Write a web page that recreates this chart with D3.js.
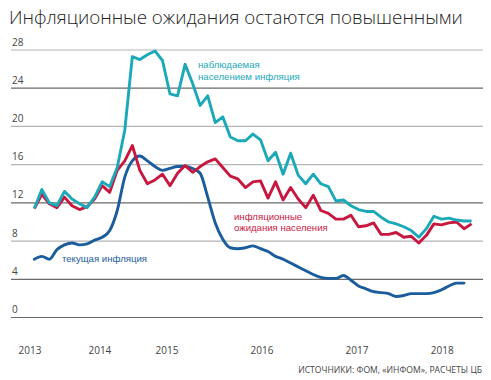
<!DOCTYPE html>
<html>
<head>
<meta charset="utf-8">
<script src="https://cdn.jsdelivr.net/npm/d3@7"></script>
<style>
  html, body { margin: 0; padding: 0; background: #fff; }
  svg { display: block; }
  text { font-family: "Open Sans", "Noto Sans", sans-serif; }
  text.lbl { font-family: "Liberation Sans", Arial, sans-serif; }
</style>
</head>
<body>
<svg id="chart" width="491" height="380"></svg>
<script>
// ---- data (monthly observations, index 0..58) ----
const observed = [11.4,13.4,12.0,11.7,13.2,12.4,11.9,11.5,12.6,14.2,13.7,15.7,19.6,27.3,27.0,27.5,27.9,26.9,23.4,23.2,
  26.5,24.5,22.2,23.2,20.4,21.0,18.9,18.5,18.5,19.2,18.6,16.4,17.3,15.0,17.2,14.9,14.0,15.0,14.0,13.7,
  12.2,12.3,11.7,11.3,11.1,11.1,10.5,10.0,9.8,9.5,9.1,8.4,9.3,10.6,10.3,10.4,10.2,10.1,10.1];
const expected = [11.4,12.9,11.9,11.5,12.6,11.7,11.3,11.6,12.4,13.8,13.1,15.4,16.4,18.0,15.4,14.0,14.4,15.0,13.8,15.1,
  15.9,15.2,15.8,16.3,16.6,15.7,14.8,14.5,13.6,14.2,14.3,12.5,14.2,12.3,13.6,12.4,11.5,12.8,11.2,10.9,
  10.3,10.3,10.7,9.5,9.6,9.9,8.7,8.7,8.9,8.4,8.5,7.8,8.6,9.8,9.7,9.9,10.0,9.3,9.8];
const current = [6.1,6.4,6.1,7.1,7.6,7.8,7.6,7.7,8.1,8.4,9.1,11.2,14.7,16.4,16.9,16.4,15.8,15.4,15.6,15.8,
  15.8,15.6,15.1,12.6,9.9,8.2,7.3,7.2,7.3,7.5,7.2,6.9,6.4,6.1,5.7,5.3,4.9,4.5,4.2,4.1,
  4.1,4.4,3.9,3.3,3.0,2.7,2.6,2.5,2.2,2.3,2.5,2.5,2.5,2.6,2.9,3.3,3.6,3.6];
const yTicks = [0, 4, 8, 12, 16, 20, 24, 28];
const yearLabels = ["2013", "2014", "2015", "2016", "2017", "2018"];
const yearPos = [-0.57, 8.7, 17.6, 30.2, 42.8, 54.1];   // position on the month-index axis
const title = "Инфляционные ожидания остаются повышенными";
const source = "ИСТОЧНИКИ: ФОМ, «ИНФОМ», РАСЧЕТЫ ЦБ";
const seriesLabels = {
  observed: ["наблюдаемая", "населением инфляция"],
  expected: ["инфляционные", "ожидания населения"],
  current: ["текущая инфляция"]
};

// ---- layout ----
const svg = d3.select("#chart");
const x = d3.scaleLinear().domain([0, 58]).range([34.3, 471.6]);
const y = d3.scaleLinear().domain([0, 28]).range([317.5, 50]);
const colors = { observed: "#1ba9b9", expected: "#c8173f", current: "#1b5c9c" };

// title
const t = svg.append("text")
  .attr("x", 9).attr("y", 24)
  .attr("font-size", 18).attr("font-weight", 300)
  .attr("fill", "#222")
  .text(title);
const tw = t.node().getComputedTextLength();
t.attr("font-size", 18 * 454 / tw);

// gridlines
const dark = new Set([0, 4, 12, 24]);
svg.append("g").selectAll("line").data(yTicks).join("line")
  .attr("x1", 11).attr("x2", 483)
  .attr("y1", d => y(d)).attr("y2", d => y(d))
  .attr("stroke", d => dark.has(d) ? "#6a6a6a" : "#b5b5b5")
  .attr("stroke-width", 1.2);

// y tick labels
svg.append("g").selectAll("text").data(yTicks).join("text")
  .attr("x", 12).attr("y", d => y(d) - 4.5)
  .attr("font-size", 10).attr("fill", "#444")
  .text(d => d);

// x labels
svg.append("g").selectAll("text").data(yearLabels).join("text")
  .attr("x", (d, i) => x(yearPos[i])).attr("y", 354)
  .attr("text-anchor", "middle")
  .attr("font-size", 10).attr("fill", "#444")
  .text(d => d);

// lines
const straight = d3.line().x((d, i) => x(i)).y(d => y(d));
const smooth = d3.line().x((d, i) => x(i)).y(d => y(d)).curve(d3.curveMonotoneX);

svg.append("path").datum(current)
  .attr("d", smooth).attr("fill", "none")
  .attr("stroke", colors.current).attr("stroke-width", 2.9)
  .attr("stroke-linejoin", "round").attr("stroke-linecap", "round");
svg.append("path").datum(expected)
  .attr("d", straight).attr("fill", "none")
  .attr("stroke", colors.expected).attr("stroke-width", 2.9)
  .attr("stroke-linejoin", "round");
svg.append("path").datum(observed)
  .attr("d", straight).attr("fill", "none")
  .attr("stroke", colors.observed).attr("stroke-width", 2.9)
  .attr("stroke-linejoin", "round");

// series labels (one text per line)
function label(lines, x0, y0, color) {
  lines.forEach((s, i) => svg.append("text")
    .attr("class", "lbl")
    .attr("x", x0).attr("y", y0 + i * 11.2)
    .attr("font-size", 9.6).attr("fill", color)
    .text(s));
}
label(seriesLabels.observed, 198, 68.3, colors.observed);
label(seriesLabels.expected, 234, 220.2, colors.expected);
label(seriesLabels.current, 62, 262.3, colors.current);

// source
svg.append("text")
  .attr("x", 482).attr("y", 373)
  .attr("text-anchor", "end")
  .attr("font-size", 8.6).attr("fill", "#444")
  .text(source);
</script>
</body>
</html>
